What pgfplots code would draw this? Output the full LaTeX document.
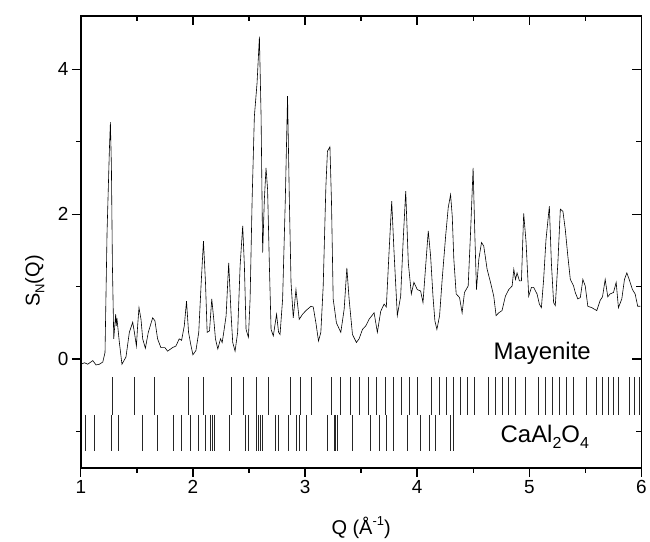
\documentclass[border=0pt]{standalone}
\usepackage{pgfplots}
\pgfplotsset{compat=1.18}
\usepackage{fontspec}
\setmainfont{Liberation Sans}
\pgfplotsset{myaxis/.style={scale only axis, width=562pt, height=453.3pt,
  xmin=1, xmax=6, ymin=-1.5, ymax=4.74,
  xtick={1,2,3,4,5,6}, minor xtick={1.5,2.5,3.5,4.5,5.5},
  ytick={0,2,4}, minor ytick={-1,1,3},
  axis line style={black, line width=1.8pt},
  major tick length=9pt, minor tick length=5pt,
  every tick/.style={black, line width=1.4pt},
  /pgf/number format/assume math mode=true,
  ticklabel style={font=\fontsize{19}{19}\selectfont}}}
\begin{document}
\begin{tikzpicture}
\begin{axis}[myaxis, tick align=outside, xtick pos=left, ytick pos=left,
  xlabel={Q (Å\raisebox{0.85ex}{\fontsize{13}{13}\selectfont -1})},
  ylabel={S\raisebox{-0.45ex}{\fontsize{13}{13}\selectfont N}(Q)},
  label style={font=\fontsize{20}{20}\selectfont},
  xlabel style={at={(rel axis cs:0.5,-0.1313)}, anchor=center},
  ylabel style={at={(rel axis cs:-0.082,0.413)}, anchor=center},
  clip=true]
\addplot[black, line width=0.6pt] coordinates {
(1.003,-0.07) (1.033,-0.05) (1.062,-0.07) (1.107,-0.02) (1.136,-0.08) (1.166,-0.07) (1.196,-0.04)
(1.216,0.09) (1.234,1.74) (1.255,2.89) (1.264,3.27) (1.273,2.66) (1.282,1.29) (1.294,0.28)
(1.311,0.62) (1.316,0.46) (1.322,0.57) (1.344,0.23) (1.367,-0.07) (1.403,0.03) (1.433,0.37)
(1.463,0.51) (1.478,0.37) (1.496,0.18) (1.507,0.46) (1.519,0.71) (1.537,0.55) (1.552,0.28)
(1.576,0.15) (1.602,0.37) (1.641,0.57) (1.661,0.53) (1.685,0.28) (1.714,0.16) (1.750,0.16)
(1.774,0.11) (1.819,0.16) (1.848,0.18) (1.878,0.28) (1.899,0.26) (1.923,0.46) (1.943,0.80)
(1.961,0.37) (1.981,0.20) (2.000,0.06) (2.027,0.12) (2.052,0.37) (2.074,1.06) (2.094,1.63)
(2.112,1.06) (2.127,0.37) (2.148,0.39) (2.168,0.83) (2.186,0.55) (2.201,0.28) (2.222,0.14)
(2.246,0.28) (2.261,0.23) (2.275,0.37) (2.296,0.60) (2.319,1.33) (2.341,0.60) (2.355,0.23)
(2.376,0.11) (2.399,0.37) (2.421,1.29) (2.444,1.84) (2.459,1.29) (2.474,0.41) (2.495,0.30)
(2.510,0.83) (2.528,2.20) (2.548,3.35) (2.572,3.81) (2.593,4.45) (2.608,3.35) (2.622,1.47)
(2.637,2.20) (2.652,2.64) (2.666,2.34) (2.682,1.29) (2.697,0.41) (2.717,0.32) (2.746,0.62)
(2.764,0.37) (2.777,0.34) (2.800,0.83) (2.824,2.20) (2.844,3.63) (2.860,2.20) (2.875,1.06)
(2.895,0.57) (2.919,0.96) (2.948,0.55) (2.978,0.62) (3.008,0.67) (3.053,0.73) (3.073,0.72)
(3.097,0.50) (3.120,0.25) (3.141,0.37) (3.162,1.01) (3.186,2.39) (3.200,2.87) (3.222,2.93)
(3.236,2.16) (3.251,0.83) (3.280,0.50) (3.319,0.37) (3.349,0.69) (3.373,1.26) (3.393,0.83)
(3.423,0.34) (3.458,0.23) (3.482,0.28) (3.512,0.41) (3.542,0.46) (3.571,0.55) (3.616,0.64)
(3.645,0.37) (3.675,0.66) (3.705,0.76) (3.725,0.72) (3.749,1.47) (3.773,2.18) (3.794,1.47)
(3.823,0.60) (3.853,0.87) (3.874,1.60) (3.898,2.32) (3.921,1.33) (3.948,0.90) (3.971,1.06)
(4.001,0.96) (4.031,0.94) (4.052,0.78) (4.076,1.29) (4.099,1.77) (4.120,1.42) (4.141,0.87)
(4.158,0.53) (4.176,0.41) (4.200,0.60) (4.223,1.10) (4.254,1.70) (4.277,2.09) (4.298,2.27)
(4.313,1.97) (4.327,1.38) (4.348,0.90) (4.378,0.85) (4.401,0.64) (4.422,0.92) (4.455,1.01)
(4.476,1.74) (4.499,2.64) (4.514,1.74) (4.529,0.96) (4.550,1.38) (4.574,1.61) (4.594,1.56)
(4.624,1.24) (4.654,1.06) (4.683,0.87) (4.704,0.60) (4.728,0.64) (4.757,0.67) (4.787,0.87)
(4.817,0.96) (4.847,1.01) (4.862,1.24) (4.877,1.10) (4.891,1.19) (4.912,1.08) (4.930,1.08)
(4.950,2.01) (4.971,1.62) (4.995,0.87) (5.019,0.99) (5.039,0.99) (5.069,0.90) (5.090,0.76)
(5.108,0.71) (5.128,1.10) (5.149,1.65) (5.179,2.11) (5.197,1.33) (5.217,0.78) (5.232,0.74)
(5.255,1.33) (5.277,2.07) (5.300,2.04) (5.321,1.79) (5.344,1.42) (5.366,1.10) (5.395,1.01)
(5.410,0.92) (5.433,0.83) (5.455,0.85) (5.478,1.10) (5.499,1.01) (5.522,0.73) (5.558,0.71)
(5.602,0.67) (5.632,0.81) (5.653,0.86) (5.677,1.10) (5.700,0.86) (5.721,0.90) (5.751,0.92)
(5.775,1.06) (5.795,0.71) (5.825,0.83) (5.849,1.10) (5.870,1.19) (5.891,1.10) (5.920,0.96)
(5.944,0.90) (5.967,0.73) (5.991,0.73)
};
% Mayenite reflections
\addplot[only marks, mark=|, mark size=18.9pt, mark options={line width=0.8pt, draw=black!85}] coordinates {
(1.282,-0.51) (1.478,-0.51) (1.656,-0.51) (1.961,-0.51) (2.094,-0.51) (2.341,-0.51) (2.453,-0.51)
(2.566,-0.51) (2.673,-0.51) (2.873,-0.51) (2.960,-0.51) (3.055,-0.51) (3.233,-0.51) (3.316,-0.51)
(3.402,-0.51) (3.488,-0.51) (3.562,-0.51) (3.633,-0.51) (3.714,-0.51) (3.785,-0.51) (3.856,-0.51)
(3.927,-0.51) (3.998,-0.51) (4.129,-0.51) (4.194,-0.51) (4.259,-0.51) (4.327,-0.51) (4.390,-0.51)
(4.452,-0.51) (4.514,-0.51) (4.639,-0.51) (4.701,-0.51) (4.757,-0.51) (4.817,-0.51) (4.876,-0.51)
(4.968,-0.51) (5.084,-0.51) (5.146,-0.51) (5.208,-0.51) (5.266,-0.51) (5.333,-0.51) (5.395,-0.51)
(5.511,-0.51) (5.602,-0.51) (5.653,-0.51) (5.702,-0.51) (5.751,-0.51) (5.795,-0.51) (5.889,-0.51)
(5.938,-0.51) (5.982,-0.51)
};
% CaAl2O4 reflections
\addplot[only marks, mark=|, mark size=18.2pt, mark options={line width=0.8pt, draw=black!85}] coordinates {
(1.040,-1.02) (1.122,-1.02) (1.269,-1.02) (1.335,-1.02) (1.547,-1.02) (1.685,-1.02) (1.827,-1.02)
(1.896,-1.02) (1.974,-1.02) (2.045,-1.02) (2.110,-1.02) (2.154,-1.02) (2.176,-1.02) (2.195,-1.02)
(2.324,-1.02) (2.472,-1.02) (2.492,-1.02) (2.570,-1.02) (2.588,-1.02) (2.604,-1.02) (2.621,-1.02)
(2.735,-1.02) (2.766,-1.02) (2.851,-1.02) (2.926,-1.02) (2.950,-1.02) (3.011,-1.02) (3.199,-1.02)
(3.258,-1.02) (3.273,-1.02) (3.288,-1.02) (3.424,-1.02) (3.586,-1.02) (3.660,-1.02) (3.730,-1.02)
(3.785,-1.02) (3.912,-1.02) (4.025,-1.02) (4.111,-1.02) (4.161,-1.02) (4.298,-1.02) (4.327,-1.02)
};
\node[anchor=base west, font=\fontsize{24}{24}\selectfont, inner sep=0pt] at (axis cs:4.68,-0.01) {Mayenite};
\node[anchor=base west, font=\fontsize{24}{24}\selectfont, inner sep=0pt] at (axis cs:4.743,-1.15) {CaAl\raisebox{-0.45ex}{\fontsize{16}{16}\selectfont 2}O\raisebox{-0.45ex}{\fontsize{16}{16}\selectfont 4}};
\end{axis}
\begin{axis}[myaxis, tick align=inside, xtick pos=right, ytick pos=right,
  xticklabels={}, yticklabels={}]
\end{axis}
\path ([shift={(-81pt,-72pt)}]current axis.south west) rectangle ([shift={(7pt,15.7pt)}]current axis.north east);
\end{tikzpicture}
\end{document}
